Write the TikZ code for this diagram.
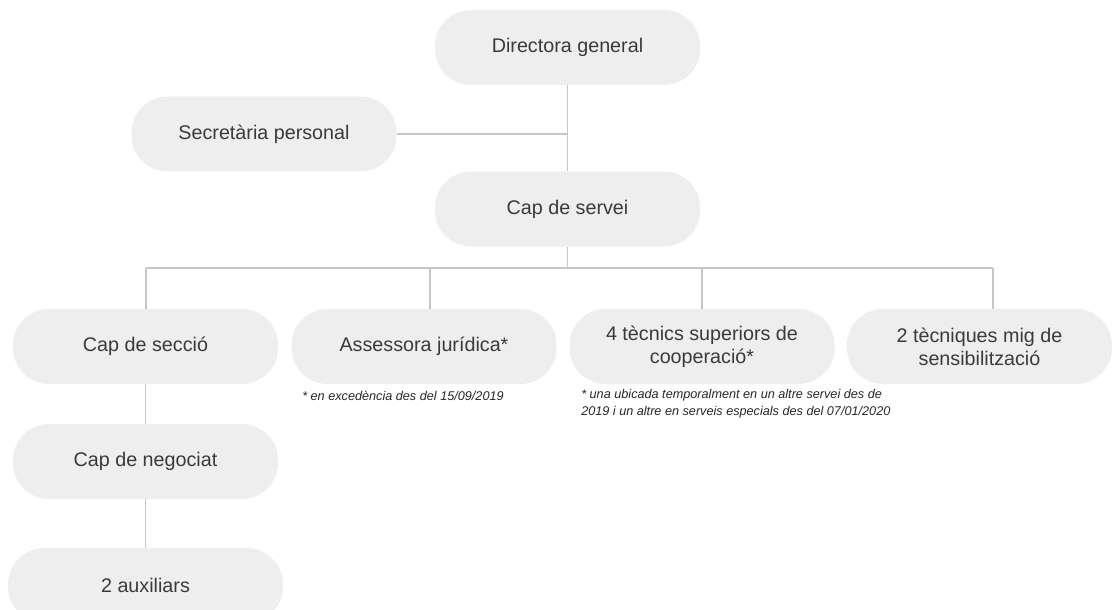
\documentclass[tikz,border=0pt]{standalone}
\usepackage{fontspec}
\setmainfont{Liberation Sans}
\definecolor{pillfill}{HTML}{EEEEEE}
\definecolor{pilltext}{HTML}{3A3A3A}
\definecolor{linkcol}{HTML}{C6C6C6}
\definecolor{notecol}{HTML}{262626}
\tikzset{
  pill/.style={fill=pillfill, rounded corners=27pt, minimum width=198.75pt, minimum height=56.25pt,
    inner sep=0pt, align=center, text=pilltext, font=\fontsize{14.8}{17.5}\selectfont},
  link/.style={draw=linkcol, line width=1.1pt},
  note/.style={anchor=north west, inner sep=0pt, align=left, text=notecol,
    font=\fontsize{9.5}{12.8}\selectfont\itshape}
}
\begin{document}
\begin{tikzpicture}[x=0.75pt,y=-0.75pt]
\useasboundingbox (0,0) rectangle (1115,610);
\clip (0,0) rectangle (1115,610);
% nodes
\node[pill] (dir) at (567.5,47.5) {Directora general};
\node[pill] (sec) at (264,134) {Secretària personal};
\node[pill] (cs) at (567.5,209) {Cap de servei};
\node[pill] (secc) at (145.5,346.5) {Cap de secció};
\node[pill] (ass) at (424,346.5) {Assessora jurídica*};
\node[pill] (tec) at (702,346.5) {4 tècnics superiors de\\cooperació*};
\node[pill] (mig) at (979.5,346.5) {2 tècniques mig de\\sensibilització};
\node[pill] (neg) at (145.5,461.5) {Cap de negociat};
\node[pill, minimum width=206pt] (aux) at (145.5,585.5) {2 auxiliars};
% notes
\node[note] (n1) at (302,391) {* en excedència des del 15/09/2019};
\node[note] (n2) at (581,389) {* una ubicada temporalment en un altre servei des de\\2019 i un altre en serveis especials des del 07/01/2020};
% connectors
\coordinate (b1) at (146,268);
\coordinate (b2) at (430,268);
\coordinate (b3) at (702,268);
\coordinate (b4) at (993,268);
\draw[link] (dir.south) -- (cs.north);
\draw[link] (sec.east) -- (sec.east -| dir.south);
\draw[link] (cs.south) -- (cs.south |- b1);
\draw[link] (b1) -- (b4);
\draw[link] (b1) -- (b1 |- secc.north);
\draw[link] (b2) -- (b2 |- ass.north);
\draw[link] (b3) -- (b3 |- tec.north);
\draw[link] (b4) -- (b4 |- mig.north);
\draw[link] (secc.south) -- (neg.north);
\draw[link] (neg.south) -- (aux.north);
\end{tikzpicture}
\end{document}
